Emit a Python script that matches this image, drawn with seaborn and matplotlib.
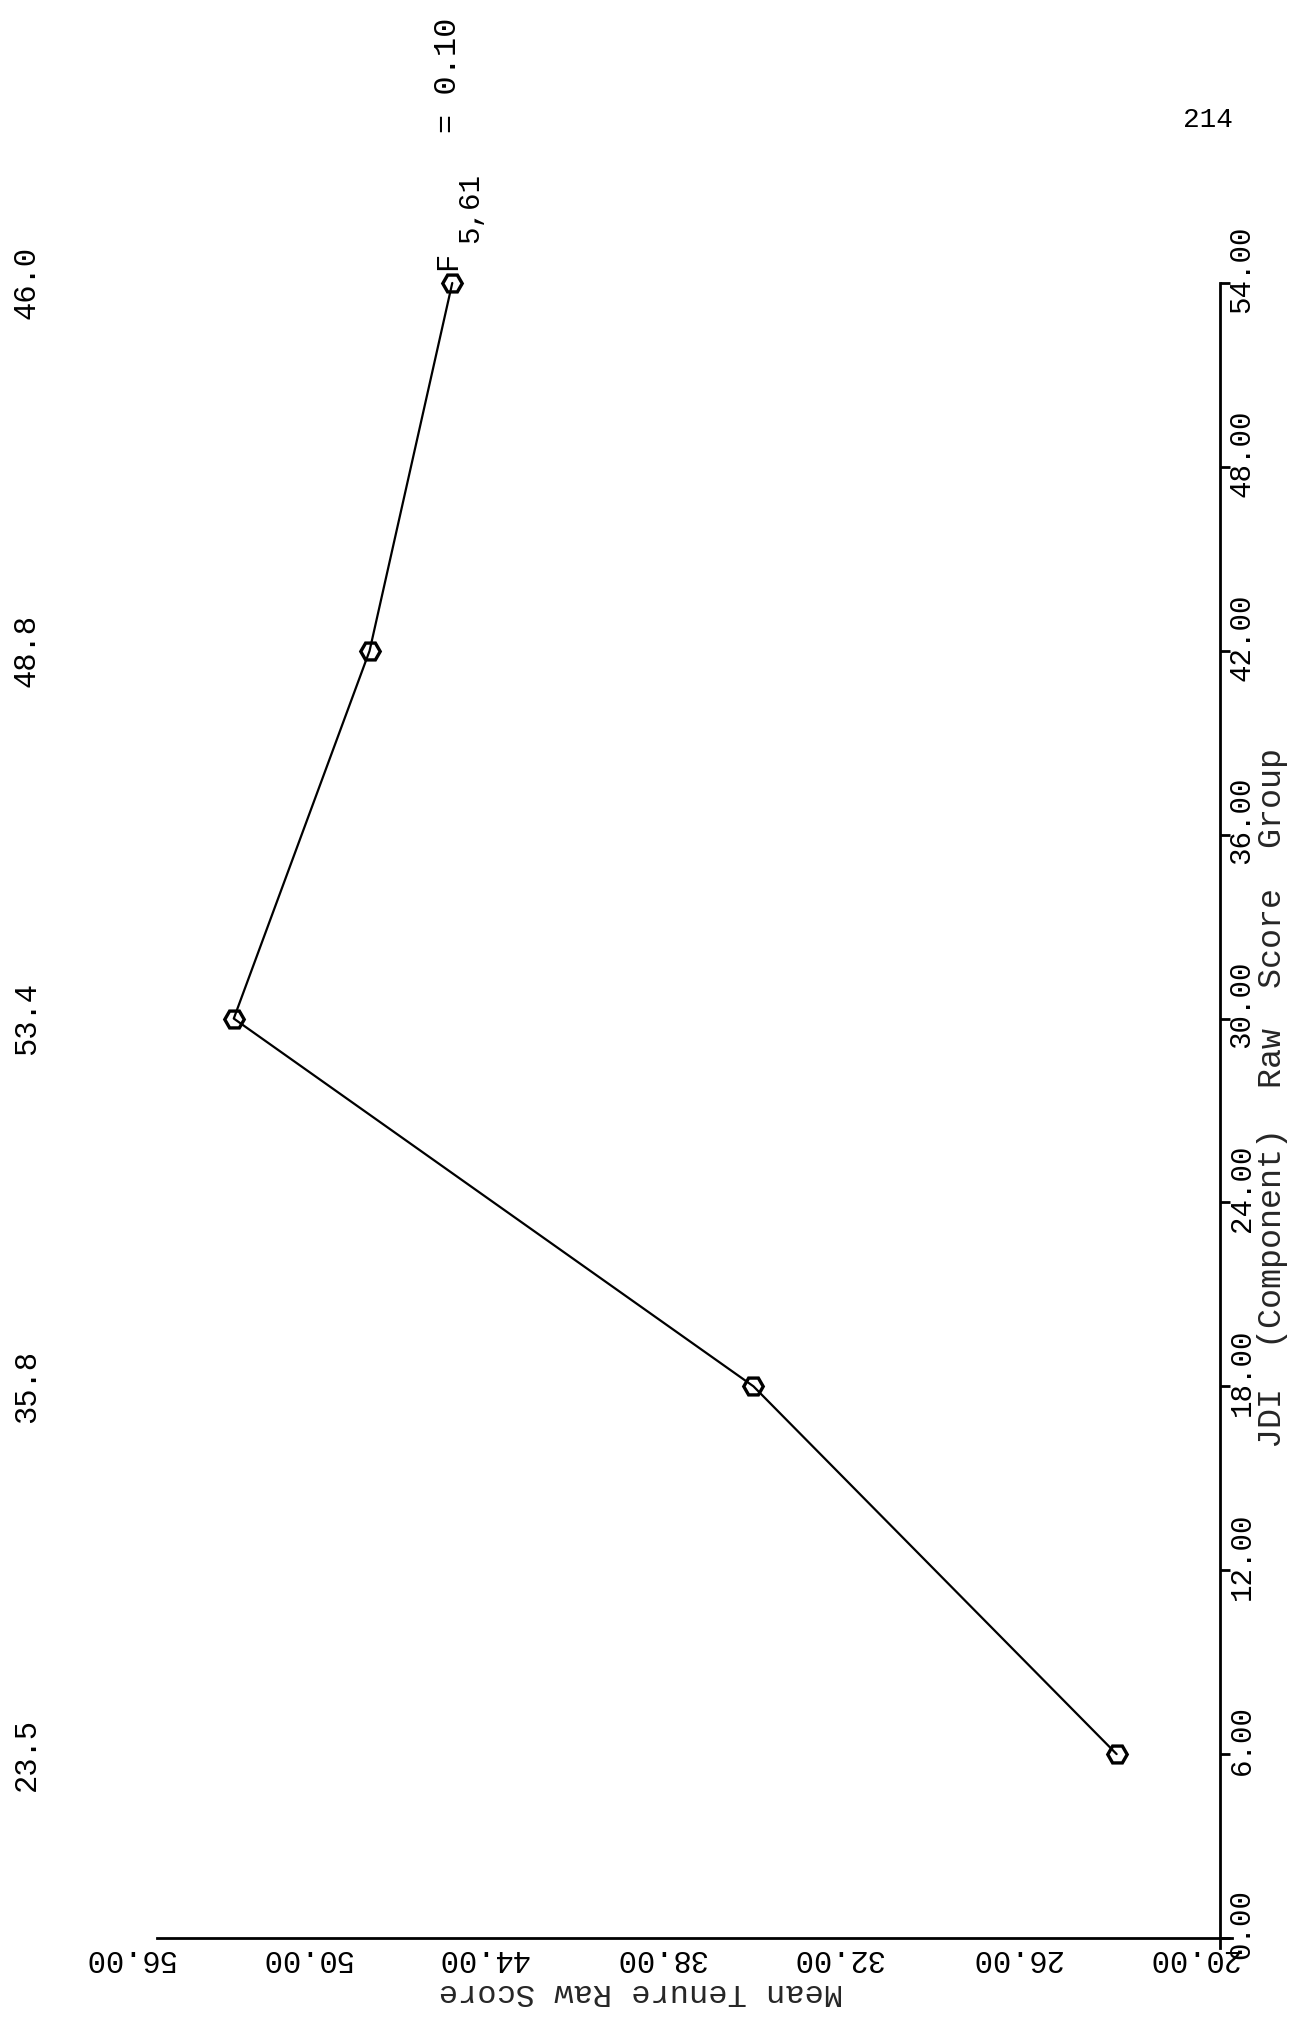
import matplotlib
matplotlib.use("Agg")
import matplotlib.pyplot as plt
import matplotlib.transforms as mtransforms
import pandas as pd
import seaborn as sns

# JDI (Component) raw score groups and the mean tenure raw score of each group
jdi_group = [6, 18, 30, 42, 54]
mean_tenure = [23.5, 35.8, 53.4, 48.8, 46.0]

# axis ticks
tenure_ticks = [20, 26, 32, 38, 44, 50, 56]
jdi_ticks = [0, 6, 12, 18, 24, 30, 36, 42, 48, 54]

# annotation pieces
f_symbol = "F"
f_df = "5,61"
f_value = "= 0.10"
page_number = "214"

sns.set_style("white")
plt.rcParams["font.family"] = ["Liberation Mono", "DejaVu Sans"]

DPI = 100
fig = plt.figure(figsize=(12.99, 20.27), dpi=DPI)
ax = fig.add_axes([0.12086, 0.03892, 0.8274, 0.82147])

df = pd.DataFrame({"jdi": jdi_group, "tenure": mean_tenure})
sns.lineplot(
    data=df, x="tenure", y="jdi", orient="y", sort=False, estimator=None,
    ax=ax, color="black", linewidth=1.6,
    marker="H", markersize=14, markerfacecolor="none",
    markeredgecolor="black", markeredgewidth=2.4, clip_on=False,
)

# the page is turned: tenure runs right-to-left along the bottom,
# JDI group runs bottom-to-top along the right
ax.set_xlim(56, 19.6)
ax.set_ylim(-0.33, 54)

for side in ("left", "top"):
    ax.spines[side].set_visible(False)
ax.spines["bottom"].set_position(("data", 0))
ax.spines["right"].set_position(("data", 20))
for side in ("bottom", "right"):
    ax.spines[side].set_linewidth(2.0)
    ax.spines[side].set_color("black")

ax.set_xticks(tenure_ticks)
ax.set_xticklabels([f"{v:.2f}" for v in tenure_ticks])
ax.yaxis.tick_right()
ax.set_yticks(jdi_ticks)
ax.set_yticklabels([f"{v:.2f}" for v in jdi_ticks])

ax.tick_params(axis="x", direction="out", length=8.5, width=2.0, pad=-5,
               labelsize=22, labelrotation=180, colors="black")
ax.tick_params(axis="y", direction="out", length=7.5, width=2.0, pad=-2,
               labelsize=21, labelrotation=90, colors="black")

for lab in ax.get_xticklabels():
    lab.set_transform(lab.get_transform() +
                      mtransforms.ScaledTranslation(-28 / DPI, 0, fig.dpi_scale_trans))
for lab in ax.get_yticklabels():
    lab.set_va("center")
    lab.set_transform(lab.get_transform() +
                      mtransforms.ScaledTranslation(0, 14 / DPI, fig.dpi_scale_trans))

ax.set_xlabel("Mean Tenure Raw Score", fontsize=23, rotation=180)
ax.xaxis.set_label_coords(0.45, -0.0262)
ax.xaxis.label.set_va("center")

ax.yaxis.set_label_position("right")
ax.set_ylabel("JDI  (Component)  Raw  Score  Group", fontsize=24, rotation=90)
ax.yaxis.set_label_coords(1.0383, 0.5105)
ax.yaxis.label.set_va("center")
ax.yaxis.label.set_ha("center")

# group means written in the left margin, level with each group
margin = mtransforms.blended_transform_factory(ax.transAxes, ax.transData)
for g, m in zip(jdi_group, mean_tenure):
    ax.text(-0.121, g, f"{m:.1f}", transform=margin, rotation=90,
            ha="center", va="center", fontsize=22, color="black")

# F statistic next to the last group
last = (mean_tenure[-1], jdi_group[-1])
common = dict(xy=last, textcoords="offset pixels", rotation=90,
              rotation_mode="anchor", ha="left", va="baseline", color="black")
ax.annotate(f_symbol, xytext=(4, 13), fontsize=22, **common)
ax.annotate(f_df, xytext=(26, 40), fontsize=21, **common)
ax.annotate(f_value, xytext=(4, 150), fontsize=23, **common)

fig.text(0.93, 0.941, page_number, ha="center", va="center",
         fontsize=20, color="black")

fig.savefig("out.png", dpi=DPI, facecolor="white")
